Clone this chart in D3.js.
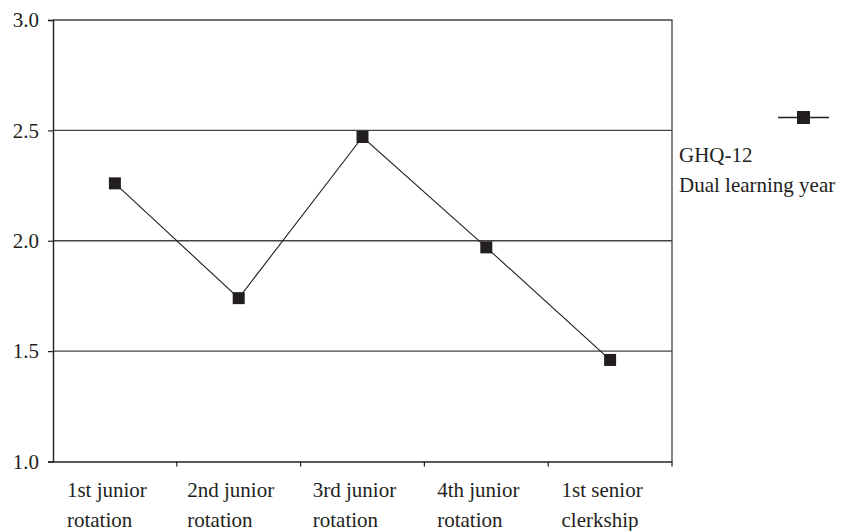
<!DOCTYPE html>
<html>
<head>
<meta charset="utf-8">
<script src="https://cdn.jsdelivr.net/npm/d3@7"></script>
<style>
  body { margin: 0; background: #fff; }
  text { font-family: "Liberation Serif", "Times New Roman", serif; fill: #231f20; }
</style>
</head>
<body>
<script>
// Data
const categories = ["1st junior rotation", "2nd junior rotation", "3rd junior rotation", "4th junior rotation", "1st senior clerkship"];
const labelLines = [["1st junior", "rotation"], ["2nd junior", "rotation"], ["3rd junior", "rotation"], ["4th junior", "rotation"], ["1st senior", "clerkship"]];
const ghqValues = [2.26, 1.74, 2.47, 1.97, 1.46];
const yTicks = [1.0, 1.5, 2.0, 2.5, 3.0];
const seriesName = ["GHQ-12", "Dual learning year"];

const width = 847, height = 531;
const margin = { left: 53, right: 175, top: 20, bottom: 70 };
const fontSize = 21;

const svg = d3.select("body").append("svg")
    .attr("width", width)
    .attr("height", height);

const x = d3.scaleBand()
    .domain(categories)
    .range([margin.left, width - margin.right]);

const y = d3.scaleLinear()
    .domain([1, 3])
    .range([height - margin.bottom + 0.5, margin.top]);

const ink = "#231f20";

// gridlines
svg.append("g")
    .selectAll("line")
    .data(yTicks.filter(d => d > 1 && d < 3))
    .join("line")
    .attr("x1", margin.left)
    .attr("x2", width - margin.right)
    .attr("y1", d => y(d))
    .attr("y2", d => y(d))
    .attr("stroke", "#444")
    .attr("stroke-width", 1.3);

// frame: top and right
svg.append("path")
    .attr("d", `M${margin.left},${y(3)}H${width - margin.right}V${y(1)}`)
    .attr("fill", "none")
    .attr("stroke", "#444")
    .attr("stroke-width", 1.3);

// y axis
const yAxis = svg.append("g")
    .attr("transform", `translate(${margin.left},0)`)
    .call(d3.axisLeft(y).tickValues(yTicks).tickFormat(d3.format(".1f")).tickSize(5).tickPadding(9));
yAxis.select(".domain").attr("stroke", ink).attr("stroke-width", 1.4);
yAxis.selectAll(".tick line").attr("stroke", ink).attr("stroke-width", 1.2);
yAxis.selectAll(".tick text")
    .attr("font-size", fontSize)
    .attr("font-family", "Liberation Serif, serif")
    .attr("fill", ink);

// x axis
const xAxis = svg.append("g")
    .attr("transform", `translate(0,${y(1)})`)
    .call(d3.axisBottom(x).tickSize(0).tickFormat(""));
xAxis.select(".domain").attr("stroke", ink).attr("stroke-width", 1.4);

// category boundary ticks
const bounds = categories.map(c => x(c)).concat([width - margin.right]);
svg.append("g")
    .selectAll("line")
    .data(bounds.slice(1))
    .join("line")
    .attr("x1", d => d).attr("x2", d => d)
    .attr("y1", y(1)).attr("y2", y(1) + 5)
    .attr("stroke", ink)
    .attr("stroke-width", 1.2);

// x labels: two lines, left aligned as a block, block roughly centred under the band
const xl = svg.append("g")
    .selectAll("text")
    .data(categories)
    .join("text")
    .attr("font-size", fontSize)
    .attr("y", y(1) + 35);
xl.each(function (d, i) {
    const t = d3.select(this);
    labelLines[i].forEach((ln, k) => {
        t.append("tspan")
            .attr("dy", k === 0 ? 0 : 30)
            .text(ln);
    });
    const w = d3.max(t.selectAll("tspan").nodes(), n => n.getComputedTextLength());
    const x0 = x(d) + x.bandwidth() / 2 - 8 - w / 2;
    t.selectAll("tspan").attr("x", x0);
});

// series line
const line = d3.line()
    .x((d, i) => x(categories[i]) + x.bandwidth() / 2)
    .y(d => y(d));

svg.append("path")
    .datum(ghqValues)
    .attr("d", line)
    .attr("fill", "none")
    .attr("stroke", ink)
    .attr("stroke-width", 1.1);

svg.append("g")
    .selectAll("rect")
    .data(ghqValues)
    .join("rect")
    .attr("x", (d, i) => x(categories[i]) + x.bandwidth() / 2 - 6)
    .attr("y", d => y(d) - 6)
    .attr("width", 12)
    .attr("height", 12)
    .attr("fill", ink);

// legend
const lg = svg.append("g");
lg.append("line")
    .attr("x1", 778).attr("x2", 829)
    .attr("y1", 117.5).attr("y2", 117.5)
    .attr("stroke", ink).attr("stroke-width", 1.3);
lg.append("rect")
    .attr("x", 797).attr("y", 111)
    .attr("width", 13).attr("height", 13)
    .attr("fill", ink);
lg.selectAll("text")
    .data(seriesName)
    .join("text")
    .attr("x", 679)
    .attr("y", (d, i) => 162 + i * 30)
    .attr("font-size", fontSize)
    .text(d => d);
</script>
</body>
</html>
